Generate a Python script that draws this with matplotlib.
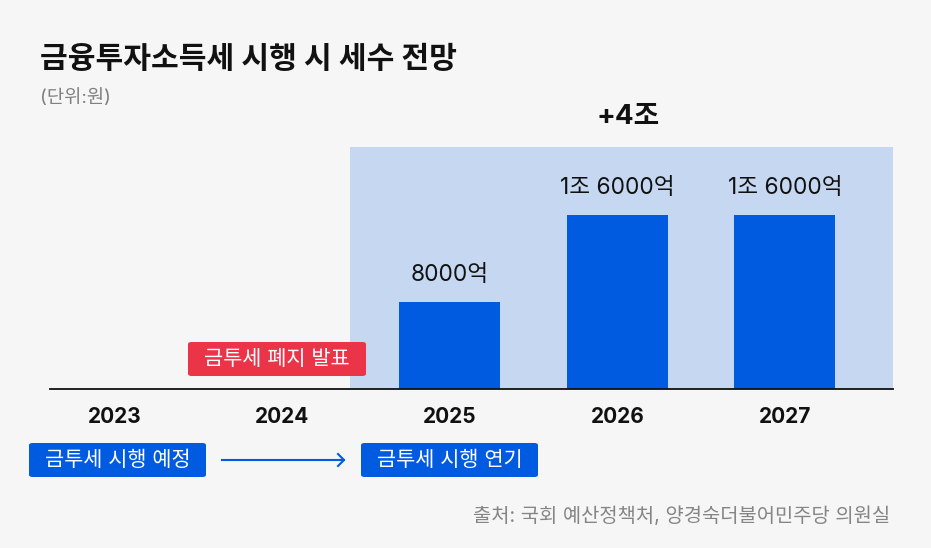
import matplotlib
matplotlib.use("Agg")
import matplotlib.pyplot as plt

plt.rcParams['font.family'] = ['Inter', 'Noto Sans CJK KR', 'DejaVu Sans']

years = ["2023", "2024", "2025", "2026", "2027"]
revenue = [0, 0, 8000, 16000, 16000]          # 억원
value_labels = ["", "", "8000억", "1조 6000억", "1조 6000억"]
title = "금융투자소득세 시행 시 세수 전망"
unit = "(단위:원)"
total_label = "+4조"
source = "출처: 국회 예산정책처, 양경숙더불어민주당 의원실"

W, H = 931, 548
BG = "#F6F6F6"
BLUE = "#005BE0"
SHADE = "#C6D7F2"
RED = "#EC3448"

fig = plt.figure(figsize=(W / 100, H / 100), dpi=100, facecolor=BG)

def fx(px):
    return px / W

def fy(py):
    return 1 - py / H

ax = fig.add_axes([fx(50), fy(389), fx(893) - fx(50), fy(147) - fy(389)])
ax.set_facecolor(BG)
ax.set_xlim(-0.388, 4.645)
ax.set_ylim(0, 22250)

# shaded future region
ax.axvspan(1.403, 4.645, color=SHADE, zorder=0, lw=0)

x = list(range(len(years)))
ax.bar([x[i] for i in range(len(years)) if revenue[i] > 0],
       [v for v in revenue if v > 0], width=0.603, color=BLUE, zorder=2)
for i, (v, lab) in enumerate(zip(revenue, value_labels)):
    if lab:
        ax.text(i, v + 2450, lab, ha="center", va="center", fontsize=16.3, color="#111111")

for s in ["top", "right", "left"]:
    ax.spines[s].set_visible(False)
ax.spines["bottom"].set_color("#111111")
ax.spines["bottom"].set_linewidth(1.3)
ax.set_yticks([])
ax.set_xticks(x)
ax.set_xticklabels(years, fontsize=15, fontweight="bold", color="#111111")
ax.tick_params(axis="x", length=0, pad=13)

# titles
fig.text(fx(40), fy(60), title, fontsize=21.7, fontweight="bold", color="#111111", va="center", ha="left")
fig.text(fx(40), fy(98), unit, fontsize=13.5, color="#808080", va="center", ha="left")
fig.text(fx(628), fy(117), total_label, fontsize=20, fontweight="bold", color="#111111", va="center", ha="center")

def label_box(x0, y0, x1, y1, text, color):
    p = plt.matplotlib.patches.FancyBboxPatch(
        (fx(x0), fy(y1)), fx(x1) - fx(x0), fy(y0) - fy(y1),
        boxstyle="round,pad=0,rounding_size=0.004",
        transform=fig.transFigure, facecolor=color, edgecolor="none", zorder=5)
    fig.patches.append(p)
    fig.text(fx((x0 + x1) / 2), fy((y0 + y1) / 2), text, fontsize=15, color="white",
             ha="center", va="center", zorder=6)

label_box(188, 342, 366, 376, "금투세 폐지 발표", RED)
label_box(29, 443, 206, 477, "금투세 시행 예정", BLUE)
label_box(361, 443, 538, 477, "금투세 시행 연기", BLUE)

fig.add_artist(plt.Line2D([fx(222), fx(344)], [fy(460), fy(460)], color=BLUE, lw=1.5))
fig.add_artist(plt.Line2D([fx(338), fx(344), fx(338)], [fy(454), fy(460), fy(466)], color=BLUE, lw=1.5))

fig.text(fx(890), fy(516), source, fontsize=14.3, color="#858585", ha="right", va="center")

fig.savefig("out.png", dpi=100, facecolor=BG)
